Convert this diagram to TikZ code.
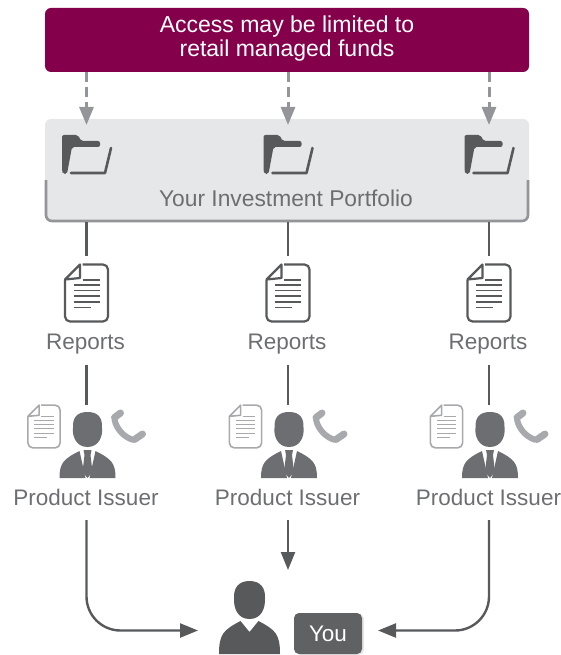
\documentclass[tikz,border=0pt]{standalone}
\usepackage{fontspec}
\setmainfont{Liberation Sans}
\usepackage{tikz}
\usetikzlibrary{calc, shadows, arrows.meta}
\definecolor{berry}{HTML}{85004B}
\definecolor{panel}{HTML}{E6E7E8}
\definecolor{panelrim}{HTML}{939598}
\definecolor{inkdark}{HTML}{58595B}
\definecolor{inkmid}{HTML}{6D6E71}
\definecolor{inklight}{HTML}{A7A9AC}
\tikzset{>={Triangle[length=18pt,width=14pt]}}
\tikzset{
  pics/foldericon/.style = {code = {
    \fill[inkdark, rounded corners=2pt] (-25,16) -- (-25,-20) -- (-9,-20) -- (-6,-14) -- (13,-14) -- (13,-8) -- (-15,-8) -- (-20,19) -- (-24,19) -- cycle;
    \draw[inkdark, line width=2.6pt, line cap=round, line join=round] (-16,18) -- (18,18) -- (24,-7);
  }},
  pics/docicon/.style = {code = {
    \draw[line width=#1, rounded corners=5pt] (-4,-28.5) -- (21.5,-28.5) -- (21.5,28.5) -- (-21.5,28.5) -- (-21.5,-13);
    \draw[line width=#1, line join=round] (-21.5,-13.5) -- (-6.5,-28.5) -- (-6.5,-15) -- cycle;
    \draw[line width=0.9*#1] (-4,-13) -- (13,-13) (-13,-8) -- (13,-8) (-13,-2.5) -- (13,-2.5) (-13,3) -- (13,3) (-13,9) -- (13,9) (-13,14.5) -- (4,14.5);
  }},
  pics/suitman/.style = {code = {
    \fill[inkmid] (0,-33) .. controls (11,-33) and (15,-27) .. (14.5,-17) .. controls (15.5,-10) and (12,2) .. (0,2) .. controls (-12,2) and (-15.5,-10) .. (-14.5,-17) .. controls (-15,-27) and (-11,-33) .. (0,-33) -- cycle;
    \fill[inkmid] (-28,33) .. controls (-28,18) and (-24,14) .. (-8,6) -- (-2,33) -- cycle;
    \fill[inkmid] (28,33) .. controls (28,18) and (24,14) .. (8,6) -- (2,33) -- cycle;
    \fill[inkmid] (-4,5) -- (4,5) -- (3,10) -- (5,27) -- (0,33) -- (-5,27) -- (-3,10) -- cycle;
  }},
  pics/phoneicon/.style = {code = {
    \draw[inklight, line width=6pt] (-14,-9) .. controls (-12,1) and (-4,9) .. (5,11.5);
    \draw[inklight, line width=7pt, line cap=round] (-14,-11) -- (-8,-15.5);
    \draw[inklight, line width=7pt, line cap=round] (6,11) -- (14,5.5);
  }},
  pics/youman/.style = {code = {
    \fill[inkdark] (0,-37) .. controls (11,-37) and (16,-30) .. (15.5,-20) .. controls (16,-10) and (12,1) .. (0,1) .. controls (-12,1) and (-16,-10) .. (-15.5,-20) .. controls (-16,-30) and (-11,-37) .. (0,-37) -- cycle;
    \fill[inkdark] (-30.5,36) .. controls (-30.5,16) and (-26,12) .. (-9,3) -- (0,14) -- (9,3) .. controls (26,12) and (30.5,16) .. (30.5,36) -- cycle;
  }}
}
\begin{document}
\begin{tikzpicture}[
    x = 1pt, y = -1pt,
    font = \fontsize{22.5}{24}\selectfont,
    labeltext/.style = {text = inkmid, inner sep = 0pt, minimum height = 24pt},
    iconbox/.style = {inner sep = 0pt, outer sep = 0pt},
    feed/.style = {draw = panelrim, line width = 3pt, dash pattern = on 10pt off 5pt, ->},
    link/.style = {draw = inkdark, line width = 2.4pt},
    linkto/.style = {link, ->},
]
\useasboundingbox (0,0) rectangle (561,655);

% top banner and portfolio panel
\node[fill = berry, rounded corners = 6pt, inner sep = 0pt, minimum width = 484pt, minimum height = 64pt] (banner) at (287,40) {};
\node[text = white, align = center, inner sep = 0pt, font = \fontsize{23}{24}\selectfont] (bannertext) at (287,39) {Access may be limited to\\retail managed funds};

\node[fill = panel, rounded corners = 6pt, inner sep = 0pt, minimum width = 484pt, minimum height = 103pt] (portfolio) at (287,170.5) {};
\draw[panelrim, line width = 2.6pt, rounded corners = 6pt] (46,180) -- (46,221) -- (528,221) -- (528,180);
\node[labeltext, font = \fontsize{22.8}{24}\selectfont] (portfoliotext) at (286,198) {Your Investment Portfolio};

% the three columns
\foreach \c/\x in {1/86.5, 2/288, 3/489} {
  \coordinate (feed\c) at (\x,125);
  \draw[feed] (banner.south -| feed\c) -- (feed\c);
  \pic at (\x+0.5,155) {foldericon};

  \node[iconbox, minimum width = 44pt, minimum height = 74pt] (doc\c) at (\x,293) {};
  \pic[inkdark] at (doc\c) {docicon={2.2pt}};
  \draw[link] (portfolio.south -| doc\c) -- (doc\c.north);
  \node[labeltext] (rep\c) at (\x-1,344.5) {Reports};

  \node[iconbox, minimum width = 56pt, minimum height = 73pt] (man\c) at (\x+1,441.5) {};
  \pic at (\x+1,445) {suitman};
  \pic[inklight, scale = 0.75] at (\x-42.5,426.5) {docicon={1.6pt}};
  \pic at (\x+42,428.5) {phoneicon};
  \draw[link] (\x,365) -- (man\c.north -| doc\c);
  \node[labeltext] (issuer\c) at (\x-0.5,497.5) {Product Issuer};
}

% bottom
\node[iconbox, minimum width = 61pt, minimum height = 73pt] (you) at (249.5,618) {};
\pic at (you) {youman};
\node[fill = inkdark!95!white, text = white, rounded corners = 5pt, minimum width = 68pt, minimum height = 41pt, inner sep = 0pt, drop shadow = {shadow xshift = 2pt, shadow yshift = -1pt, opacity = 0.2}] (youtag) at (328,633.5) {You};

\coordinate (endleft) at (198,630.5);
\coordinate (endmid) at (288,570);
\coordinate (endright) at (378,630.5);
\draw[linkto, rounded corners = 34pt] (86.5,520) |- (endleft);
\draw[linkto] (288,520) -- (endmid);
\draw[linkto, rounded corners = 34pt] (489,520) |- (endright);

\end{tikzpicture}
\end{document}
